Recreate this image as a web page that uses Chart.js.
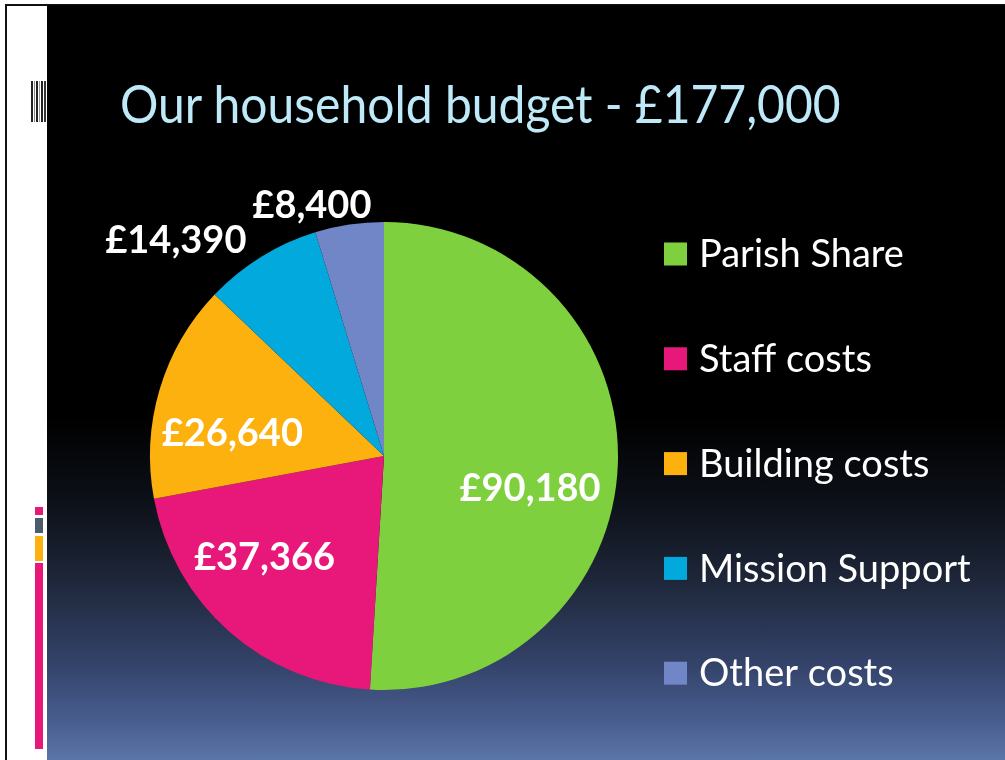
<!DOCTYPE html>
<html>
<head>
<meta charset="utf-8">
<script src="https://cdn.jsdelivr.net/npm/chart.js@4.4.1/dist/chart.umd.min.js"></script>
<style>
  html, body { margin:0; padding:0; width:1005px; height:760px; overflow:hidden; background:#fff; position:relative; }
  #frameL { position:absolute; left:5px; top:5px; width:2px; height:760px; background:#111; }
  #frameT { position:absolute; left:5px; top:4px; width:1000px; height:2px; background:#111; }
  #slide { position:absolute; left:47px; top:5px; width:958px; height:755px;
    background:linear-gradient(to bottom, #000 0px, #000 410px, #0d1119 500px, #1f283c 580px, #34436a 660px, #4a5f92 720px, #5b76a8 755px); }
  .bar { position:absolute; }
  #title { position:absolute; left:120px; top:70px; font-family:'Lato', sans-serif; font-size:48px; color:#bde9f8; white-space:nowrap; line-height:60px; transform:scaleY(1.1); transform-origin:left top; }
  #c { position:absolute; left:0; top:0; }
</style>
</head>
<body>
<div id="frameT"></div>
<div id="frameL"></div>
<div id="slide"></div>
<!-- left decorations -->
<div class="bar" style="left:31px;top:81px;width:2px;height:41px;background:#222"></div>
<div class="bar" style="left:34px;top:81px;width:1px;height:41px;background:#888"></div>
<div class="bar" style="left:36px;top:81px;width:2px;height:41px;background:#222"></div>
<div class="bar" style="left:39px;top:81px;width:1px;height:41px;background:#999"></div>
<div class="bar" style="left:41px;top:81px;width:2px;height:41px;background:#222"></div>
<div class="bar" style="left:44px;top:81px;width:2px;height:41px;background:#333"></div>
<div class="bar" style="left:35px;top:507px;width:8px;height:8px;background:#e8177a"></div>
<div class="bar" style="left:35px;top:518px;width:8px;height:15px;background:#4c5a6e"></div>
<div class="bar" style="left:35px;top:536px;width:8px;height:25px;background:#fdb10f"></div>
<div class="bar" style="left:35px;top:563px;width:8px;height:186px;background:#e8177a"></div>
<div id="title">Our household budget - £177,000</div>
<canvas id="c" width="1005" height="760"></canvas>
<script>
// ---- data ----
const categories = ['Parish Share', 'Staff costs', 'Building costs', 'Mission Support', 'Other costs'];
const amounts = [90180, 37366, 26640, 14390, 8400];

// ---- styles ----
const sliceColors = ['#7ed03e', '#e8177a', '#fdb10f', '#02a9dc', '#7086c6'];
const labelFont = "bold 38px 'Lato', sans-serif";
const legendFont = "38px 'Lato', sans-serif";
// label placement: radial factor and angular nudge (deg) relative to slice mid-angle
const labelRadial = [0.64, 0.67, 0.655, 1.28, 1.115];
const labelNudge = [11, 8.2, -8.2, -12.3, -7.5];

const fmt = v => '£' + v.toLocaleString('en-GB');

const valueLabelPlugin = {
  id: 'valueLabels',
  afterDatasetsDraw(chart) {
    const ctx = chart.ctx;
    const meta = chart.getDatasetMeta(0);
    ctx.save();
    ctx.font = labelFont;
    ctx.fillStyle = '#ffffff';
    ctx.textAlign = 'center';
    ctx.textBaseline = 'middle';
    meta.data.forEach((arc, i) => {
      const p = arc.getProps(['x', 'y', 'startAngle', 'endAngle', 'outerRadius'], true);
      const mid = (p.startAngle + p.endAngle) / 2 + labelNudge[i] * Math.PI / 180;
      const r = p.outerRadius * labelRadial[i];
      ctx.fillText(fmt(chart.data.datasets[0].data[i]), p.x + Math.cos(mid) * r, p.y + Math.sin(mid) * r);
    });
    ctx.restore();
  }
};

const sideLegendPlugin = {
  id: 'sideLegend',
  afterDraw(chart, args, opts) {
    const ctx = chart.ctx;
    const ds = chart.data.datasets[0];
    ctx.save();
    ctx.font = legendFont;
    ctx.textBaseline = 'middle';
    ctx.textAlign = 'left';
    chart.data.labels.forEach((lab, i) => {
      const cy = opts.top + i * opts.step;
      ctx.fillStyle = ds.backgroundColor[i];
      ctx.fillRect(opts.x, cy - opts.box / 2, opts.box, opts.box);
      ctx.fillStyle = '#ffffff';
      ctx.fillText(lab, opts.x + opts.box + 12, cy + 1);
    });
    ctx.restore();
  }
};

new Chart(document.getElementById('c'), {
  type: 'pie',
  data: {
    labels: categories,
    datasets: [{
      data: amounts,
      backgroundColor: sliceColors,
      borderWidth: 0
    }]
  },
  options: {
    responsive: false,
    animation: false,
    layout: { padding: { left: 150, right: 387, top: 222, bottom: 70 } },
    plugins: {
      legend: { display: false },
      tooltip: { enabled: false },
      sideLegend: { x: 664, top: 254, step: 104.8, box: 23 }
    }
  },
  plugins: [valueLabelPlugin, sideLegendPlugin]
});
</script>
</body>
</html>
